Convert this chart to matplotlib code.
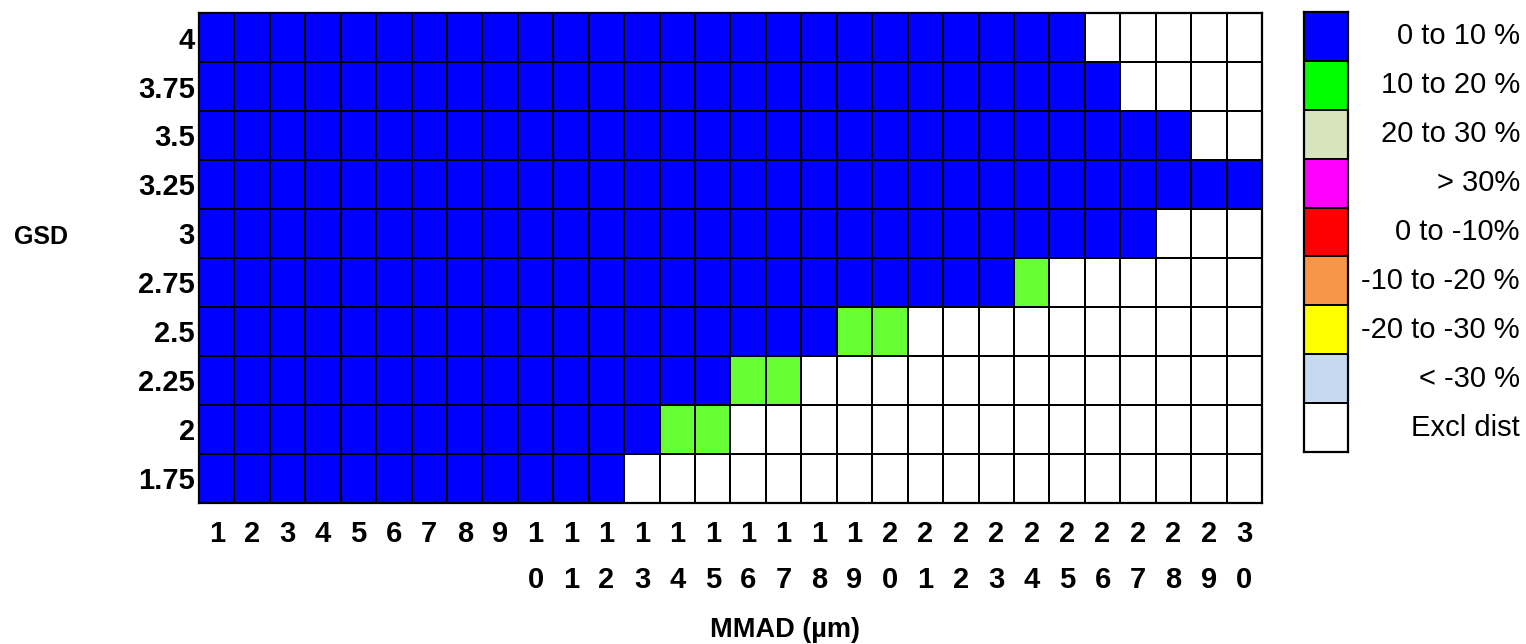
import numpy as np
import matplotlib.pyplot as plt
from matplotlib.colors import ListedColormap, BoundaryNorm
from matplotlib.transforms import blended_transform_factory

plt.rcParams['font.family'] = ['Liberation Sans', 'DejaVu Sans']

# ---------------------------------------------------------------------------
# Data
gsd_labels = ['1.75', '2', '2.25', '2.5', '2.75', '3', '3.25', '3.5', '3.75', '4']
mmad = list(range(1, 31))

# category of each cell, one string per GSD row (bottom -> top), MMAD 1..30
# 0 = 0 to 10 %, 1 = 10 to 20 %, 8 = Excl dist
rows = [
    '0000000000 0088888888 8888888888',  # 1.75
    '0000000000 0001188888 8888888888',  # 2
    '0000000000 0000011888 8888888888',  # 2.25
    '0000000000 0000000011 8888888888',  # 2.5
    '0000000000 0000000000 0001888888',  # 2.75
    '0000000000 0000000000 0000000888',  # 3
    '0000000000 0000000000 0000000000',  # 3.25
    '0000000000 0000000000 0000000088',  # 3.5
    '0000000000 0000000000 0000008888',  # 3.75
    '0000000000 0000000000 0000088888',  # 4
]

legend_labels = ['0 to 10 %', '10 to 20 %', '20 to 30 %', '> 30%', '0 to -10%',
                 '-10 to -20 %', '-20 to -30 %', '< -30 %', 'Excl dist']
legend_colors = ['#0000ff', '#00ff00', '#d8e4bc', '#ff00ff', '#ff0000',
                 '#f79646', '#ffff00', '#c5d9f1', '#ffffff']
# the grid draws the 10-20 % cells in a lighter green than the key
grid_colors = list(legend_colors)
grid_colors[1] = '#66ff33'

# ---------------------------------------------------------------------------
cat = np.array([[int(c) for c in r.replace(' ', '')] for r in rows])

fig = plt.figure(figsize=(15.26, 6.44), dpi=100)
ax = fig.add_axes([0.1304, 0.219, 0.6966, 0.7608])

cmap = ListedColormap(grid_colors)
norm = BoundaryNorm(np.arange(-0.5, 9.5, 1), cmap.N)
xe = np.arange(len(mmad) + 1) + 0.5
ye = np.arange(len(gsd_labels) + 1) - 0.5
ax.pcolormesh(xe, ye, cat, cmap=cmap, norm=norm, edgecolors='black', linewidth=1.4)
ax.set_xlim(xe[0], xe[-1])
ax.set_ylim(ye[0], ye[-1])

for s in ax.spines.values():
    s.set_linewidth(1.6)

ax.set_yticks(range(len(gsd_labels)))
ax.set_yticklabels(gsd_labels, fontsize=21, fontweight='bold')
ax.set_xticks(mmad)
ax.set_xticklabels(['\n'.join(str(m)) for m in mmad], fontsize=21,
                   fontweight='bold', linespacing=1.85)
ax.tick_params(axis='y', length=0, pad=3)
ax.tick_params(axis='x', length=0, pad=12)

fig.text(0.0095, 0.632, 'GSD', fontsize=18, fontweight='bold', va='center', ha='left')
fig.text(0.5145, 0.022, 'MMAD (\u00b5m)', fontsize=19.5, fontweight='bold', va='center', ha='center')

# Key
axl = fig.add_axes([0.8545, 0.2981, 0.0288, 0.6833])
lcat = np.arange(len(legend_labels)).reshape(-1, 1)
axl.pcolormesh([0, 1], np.arange(len(legend_labels) + 1) - 0.5, lcat,
               cmap=ListedColormap(legend_colors), norm=norm,
               edgecolors='black', linewidth=1.4)
axl.set_xlim(0, 1)
axl.set_ylim(len(legend_labels) - 0.5, -0.5)
axl.set_xticks([])
axl.set_yticks([])
for s in axl.spines.values():
    s.set_linewidth(1.6)
tr = blended_transform_factory(fig.transFigure, axl.transData)
for i, lab in enumerate(legend_labels):
    axl.text(0.996, i, lab, transform=tr, ha='right', va='center', fontsize=21)

fig.savefig('out.png', dpi=100)
